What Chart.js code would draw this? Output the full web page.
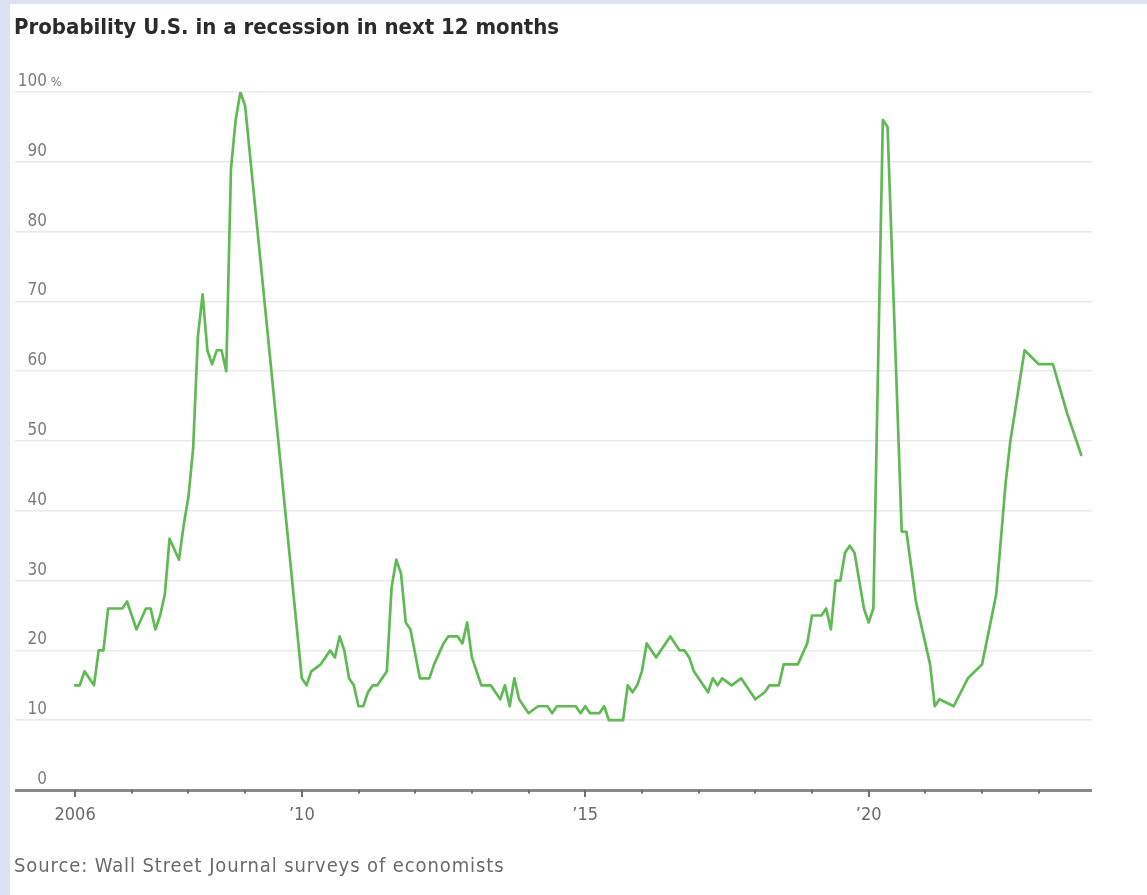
<!DOCTYPE html>
<html>
<head>
<meta charset="utf-8">
<script src="https://cdn.jsdelivr.net/npm/chart.js@4/dist/chart.umd.min.js"></script>
<style>
  html, body { margin: 0; padding: 0; }
  body { width: 1147px; height: 895px; background: #dbe3f3; position: relative; overflow: hidden; }
  #panel { position: absolute; left: 10px; top: 4px; right: 0; bottom: 0; background: #ffffff; }
  #chart { position: absolute; left: 0; top: 0; }
  .txt { position: absolute; white-space: nowrap; font-family: "Liberation Sans Narrow", "DejaVu Sans Condensed", "Roboto", sans-serif; }
  #title { left: 14px; top: 14px; font-size: 22px; font-weight: bold; color: #2b2b2b; }
  #source { left: 14px; top: 853px; font-size: 20px; color: #6a6a6a; letter-spacing: 0.9px; }
</style>
</head>
<body>
<div id="panel"></div>
<canvas id="chart" width="1147" height="895"></canvas>
<div class="txt" id="title">Probability U.S. in a recession in next 12 months</div>
<div class="txt" id="source">Source: Wall Street Journal surveys of economists</div>
<script>
// Survey dates (year-month) and the average probability, in percent
const surveyMonths = [
  '2006-01','2006-02','2006-03','2006-05','2006-06','2006-07','2006-08','2006-11','2006-12',
  '2007-02','2007-04','2007-05','2007-06','2007-07','2007-08','2007-09','2007-11','2007-12',
  '2008-01','2008-02','2008-03','2008-04','2008-05','2008-06','2008-07','2008-08','2008-09',
  '2008-10','2008-11','2008-12','2009-01',
  '2010-01','2010-02','2010-03','2010-05','2010-06','2010-07','2010-08','2010-09','2010-10',
  '2010-11','2010-12',
  '2011-01','2011-02','2011-03','2011-04','2011-05','2011-07','2011-08','2011-09','2011-10',
  '2011-11','2011-12',
  '2012-02','2012-04','2012-05','2012-07','2012-08','2012-10','2012-11','2012-12',
  '2013-01','2013-03','2013-05','2013-07','2013-08','2013-09','2013-10','2013-11',
  '2014-01','2014-03','2014-05','2014-06','2014-07','2014-11','2014-12',
  '2015-01','2015-02','2015-04','2015-05','2015-06','2015-09','2015-10','2015-11','2015-12',
  '2016-01','2016-02','2016-04','2016-07','2016-09','2016-10','2016-11','2016-12',
  '2017-02','2017-03','2017-04','2017-05','2017-06','2017-08','2017-10',
  '2018-01','2018-03','2018-04','2018-06','2018-07','2018-10','2018-12',
  '2019-01','2019-03','2019-04','2019-05','2019-06','2019-07','2019-08','2019-09','2019-10',
  '2019-12',
  '2020-01','2020-02','2020-04','2020-05','2020-08','2020-09','2020-11',
  '2021-02','2021-03','2021-04','2021-07','2021-10',
  '2022-01','2022-04','2022-06','2022-07','2022-10',
  '2023-01','2023-04','2023-07','2023-10'
];
const recessionOdds = [
  15, 15, 17, 15, 20, 20, 26, 26, 27,
  23, 26, 26, 23, 25, 28, 36, 33, 38,
  42, 49, 65, 71, 63, 61, 63, 63, 60,
  89, 96, 100, 98,
  16, 15, 17, 18, 19, 20, 19, 22, 20,
  16, 15,
  12, 12, 14, 15, 15, 17, 29, 33, 31,
  24, 23,
  16, 16, 18, 21, 22, 22, 21, 24,
  19, 15, 15, 13, 15, 12, 16, 13,
  11, 12, 12, 11, 12, 12, 11,
  12, 11, 11, 12, 10, 10, 15, 14, 15,
  17, 21, 19, 22, 20, 20, 19, 17,
  15, 14, 16, 15, 16, 15, 16,
  13, 14, 15, 15, 18, 18, 21,
  25, 25, 26, 23, 30, 30, 34, 35, 34,
  26,
  24, 26, 96, 95, 37, 37, 27,
  18, 12, 13, 12, 16,
  18, 28, 44, 50, 63,
  61, 61, 54, 48
];

// Axis ticks
const yTickValues = [0, 10, 20, 30, 40, 50, 60, 70, 80, 90, 100];
const yTopSuffix = ' %';
const xTickYears = [2006, 2007, 2008, 2009, 2010, 2011, 2012, 2013, 2014, 2015,
                    2016, 2017, 2018, 2019, 2020, 2021, 2022, 2023];
const xLabelYears = [2006, 2010, 2015, 2020];
const xLabelTexts = ['2006', '\u201910', '\u201915', '\u201920'];

// Horizontal extent of the time axis, in years (it runs under the value labels)
const xMin = 2004.94;
const xMax = 2023.94;

const labelFont = '"Liberation Sans Narrow", "DejaVu Sans Condensed", "Roboto", sans-serif';

function monthToYear(m) {
  const [y, mo] = m.split('-').map(Number);
  return y + (mo - 1) / 12;
}

const points = surveyMonths.map((m, i) => ({ x: monthToYear(m), y: recessionOdds[i] }));

// Value labels sit just above their gridlines, year ticks hang below the baseline
const axisDecor = {
  id: 'axisDecor',
  afterDraw(chart) {
    const { ctx, scales } = chart;
    const ys = scales.y, xs = scales.x;
    ctx.save();
    ctx.fillStyle = '#7c7c7c';
    ctx.textBaseline = 'alphabetic';
    yTickValues.forEach(v => {
      const py = ys.getPixelForValue(v) - 6;
      ctx.font = '17px ' + labelFont;
      ctx.textAlign = 'right';
      ctx.fillText(String(v), 47, py);
      if (v === yTickValues[yTickValues.length - 1]) {
        ctx.textAlign = 'left';
        ctx.font = '13px ' + labelFont;
        ctx.fillText(yTopSuffix, 47, py);
      }
    });
    const base = ys.getPixelForValue(0);
    ctx.strokeStyle = '#6f6f6f';
    ctx.lineWidth = 2;
    xTickYears.forEach(yr => {
      const px = Math.round(xs.getPixelForValue(yr));
      const long = xLabelYears.includes(yr);
      ctx.beginPath();
      ctx.moveTo(px, base);
      ctx.lineTo(px, base + (long ? 7 : 3.5));
      ctx.stroke();
    });
    ctx.restore();
  }
};

new Chart(document.getElementById('chart'), {
  type: 'line',
  data: {
    datasets: [{
      data: points,
      borderColor: '#60ba54',
      borderWidth: 2.7,
      pointRadius: 0,
      tension: 0,
      borderJoinStyle: 'round',
      borderCapStyle: 'round',
      fill: false
    }]
  },
  options: {
    responsive: false,
    animation: false,
    devicePixelRatio: 1,
    layout: { padding: { left: 15, top: 92, right: 55, bottom: 0 } },
    plugins: { legend: { display: false }, tooltip: { enabled: false }, title: { display: false } },
    scales: {
      x: {
        type: 'linear',
        min: xMin,
        max: xMax,
        afterBuildTicks(scale) {
          scale.ticks = xLabelYears.map(v => ({ value: v }));
        },
        afterFit(scale) { scale.height = 105; },
        grid: { display: false },
        border: { display: false },
        ticks: {
          autoSkip: false,
          maxRotation: 0,
          padding: 7,
          color: '#6a6a6a',
          font: { family: labelFont, size: 18 },
          callback(value) {
            const i = xLabelYears.indexOf(value);
            return i >= 0 ? xLabelTexts[i] : '';
          }
        }
      },
      y: {
        min: 0,
        max: 100,
        afterBuildTicks(scale) {
          scale.ticks = yTickValues.map(v => ({ value: v }));
        },
        afterFit(scale) { scale.width = 0; },
        border: { display: false },
        grid: {
          drawTicks: false,
          color: ctx => ctx.tick && ctx.tick.value === 0 ? '#8a8a8a' : '#e9e9e9',
          lineWidth: ctx => ctx.tick && ctx.tick.value === 0 ? 3 : 1.6
        },
        ticks: { display: false }
      }
    }
  },
  plugins: [axisDecor]
});
</script>
</body>
</html>
